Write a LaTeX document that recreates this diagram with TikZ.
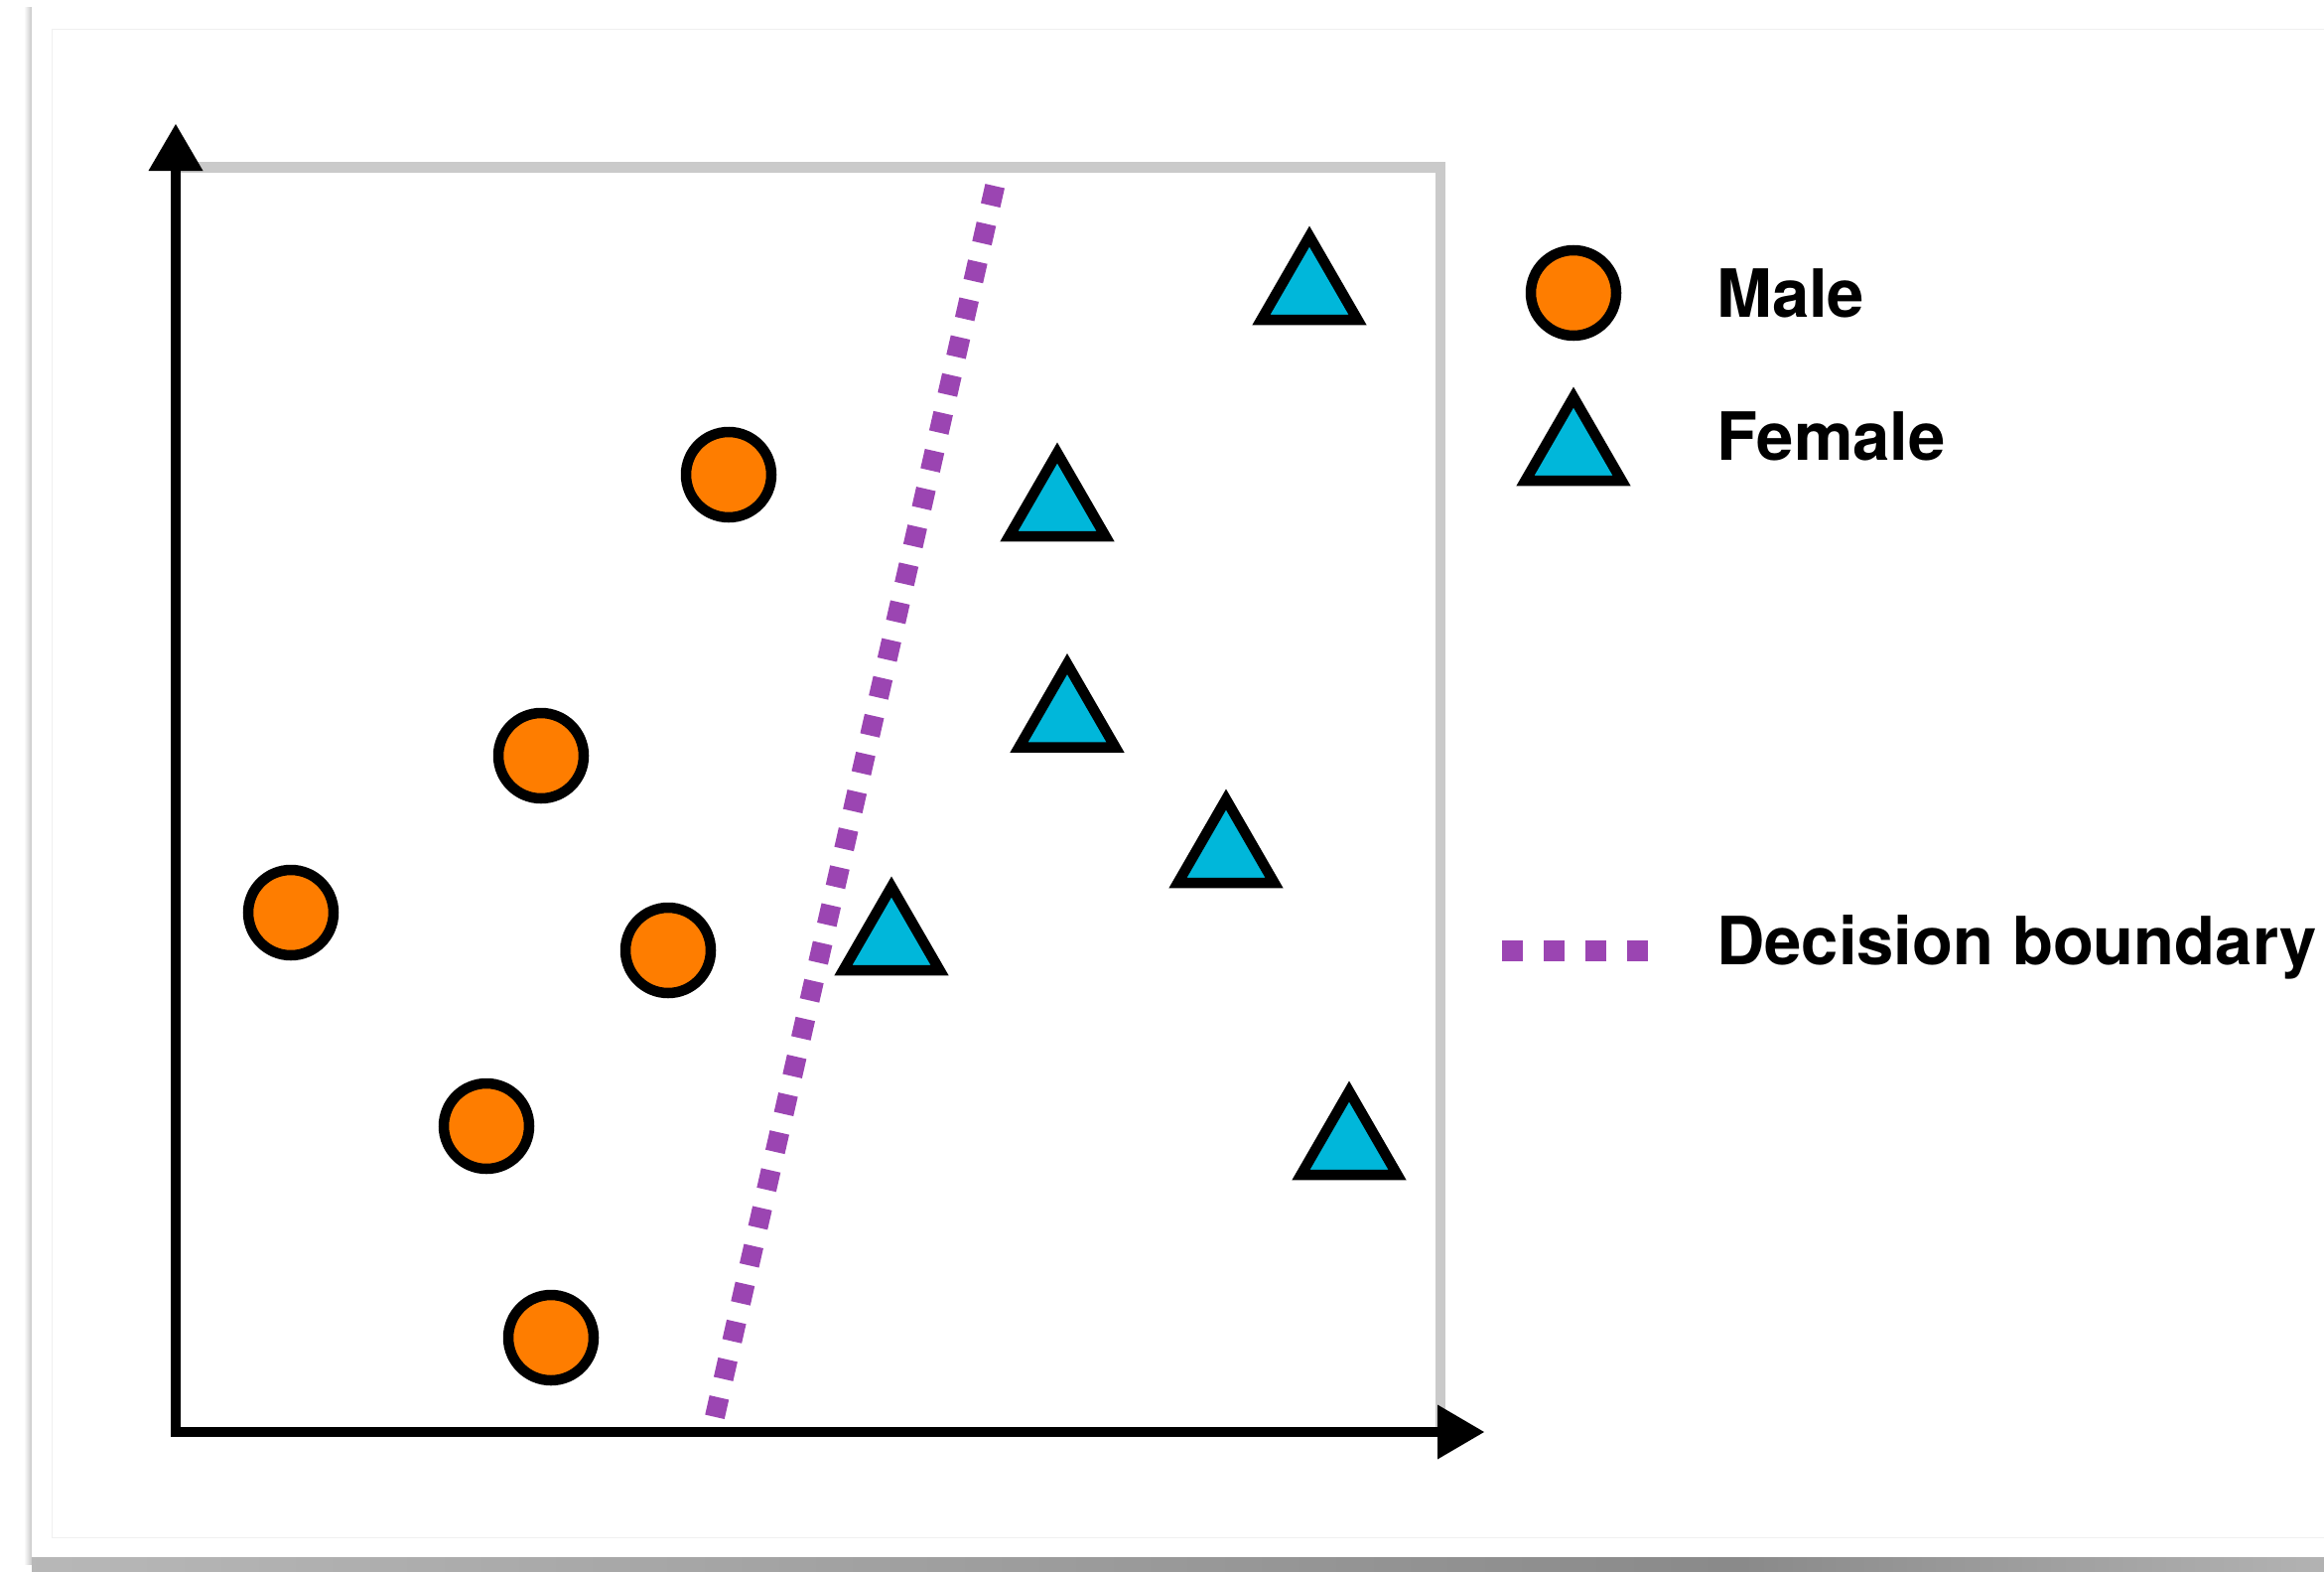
\documentclass[tikz,border=0pt]{standalone}
\usepackage{fontspec}
\setmainfont{TeX Gyre Heros}
\usetikzlibrary{arrows.meta,shapes.geometric}
\definecolor{maleorange}{RGB}{254,125,0}
\definecolor{femcyan}{RGB}{0,183,218}
\definecolor{boundary}{RGB}{155,69,178}
\definecolor{framegray}{RGB}{202,202,202}
\begin{document}
\begin{tikzpicture}[x=1pt,y=-1pt,
  male/.style={circle,draw=black,line width=10.5pt,fill=maleorange,minimum size=86pt,inner sep=0pt,outer sep=0pt},
  female/.style={regular polygon,regular polygon sides=3,draw=black,line width=10.5pt,fill=femcyan,minimum size=112pt,inner sep=0pt,outer sep=0pt},
  legendtext/.style={anchor=base west,inner sep=0pt,font=\fontsize{67pt}{80pt}\selectfont\bfseries},
  axisarrow/.style={line width=10pt,-{Triangle[length=47pt,width=55pt,line width=0pt]}},
  boundaryline/.style={draw=boundary,line width=20pt,dash pattern=on 20pt off 19.1pt}]
\useasboundingbox (0,0) rectangle (2341,1582);
\fill[white] (0,0) rectangle (2341,1582);
% card shadow
\shade[left color=white,right color=black!22] (24,7) rectangle (32,1575);
\shade[left color=black!28,right color=black!46] (32,1568) rectangle (1750,1582);
\shade[left color=black!46,right color=black!30] (1750,1568) rectangle (2341,1582);
\fill[white] (32,7) rectangle (2341,1568);
\draw[black!6,line width=1pt] (2341,29) -- (52,29) -- (52,1548) -- (2341,1548);
% plot frame
\draw[framegray,line width=10.5pt] (177,168.5) -- (1451,168.5) -- (1451,1437);
% decision boundary
\coordinate (btop) at (1002.2,187.3);
\coordinate (bbot) at (719.8,1427.7);
\draw[boundaryline] (btop) -- (bbot);
% axes
\coordinate (ybase) at (177,1447);
\coordinate (ytip) at (177,125);
\coordinate (xbase) at (172,1442);
\coordinate (xtip) at (1495,1442);
\draw[axisarrow] (ybase) -- (ytip);
\draw[axisarrow] (xbase) -- (xtip);
% male points
\node[male] (m1) at (734,478) {};
\node[male] (m2) at (545,761) {};
\node[male] (m3) at (293,919) {};
\node[male] (m4) at (673,957) {};
\node[male] (m5) at (490,1134) {};
\node[male] (m6) at (555,1347) {};
% female points
\node[female] (f1) at (1319,294) {};
\node[female] (f2) at (1065,512) {};
\node[female] (f3) at (1075,724.5) {};
\node[female] (f4) at (1235,861) {};
\node[female] (f5) at (898,949) {};
\node[female] (f6) at (1359,1155) {};
% legend
\node[male] (lm) at (1585,295) {};
\node[female] (lf) at (1585,456) {};
\coordinate (ldash1) at (1513,957.5);
\coordinate (ldash2) at (1660,957.5);
\draw[boundary,line width=21pt,dash pattern=on 21pt off 21pt] (ldash1) -- (ldash2);
\node[legendtext] (maletext) at (1729,319) {Male};
\node[legendtext] (femaletext) at (1729,463) {Female};
\node[legendtext] (boundarytext) at (1729,971) {Decision boundary};
\end{tikzpicture}
\end{document}
